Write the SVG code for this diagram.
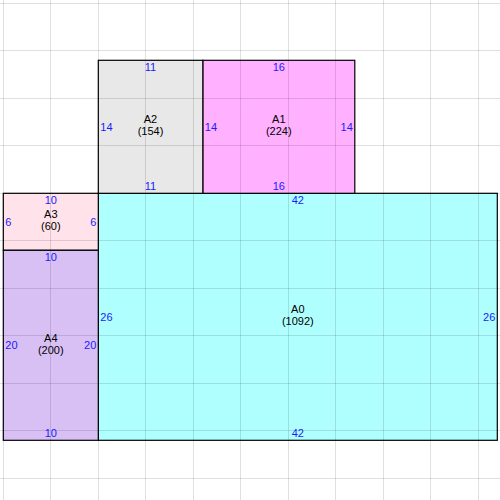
<svg xmlns="http://www.w3.org/2000/svg" width="500" height="500" viewBox="0 0 500 500">
<style>
.r{stroke:#000;stroke-width:1.2}
.g line{stroke:#000;stroke-opacity:0.12;stroke-width:1}
.n{font-family:"Liberation Sans",Arial,sans-serif;font-size:11px;fill:#000;text-anchor:middle}
.d{font-family:"Liberation Sans",Arial,sans-serif;font-size:11px;fill:#1a1aff}
.m{text-anchor:middle}
.e{text-anchor:end}
</style>
<rect width="500" height="500" fill="#fff"/>
<g id="A0"><rect class="r" x="98.3" y="193.3" width="399" height="247" fill="#b0ffff"/></g>
<g id="A1"><rect class="r" x="202.8" y="60.3" width="152" height="133" fill="#ffb0ff"/></g>
<g id="A2"><rect class="r" x="98.3" y="60.3" width="104.5" height="133" fill="#e8e8e8"/></g>
<g id="A3"><rect class="r" x="3.3" y="193.3" width="95" height="57" fill="#ffe2ea"/></g>
<g id="A4"><rect class="r" x="3.3" y="250.3" width="95" height="190" fill="#d9c0f4"/></g>
<g class="g">
<line x1="3.5" y1="0" x2="3.5" y2="500"/><line x1="50.5" y1="0" x2="50.5" y2="500"/><line x1="98.5" y1="0" x2="98.5" y2="500"/><line x1="145.5" y1="0" x2="145.5" y2="500"/><line x1="193.5" y1="0" x2="193.5" y2="500"/><line x1="240.5" y1="0" x2="240.5" y2="500"/><line x1="288.5" y1="0" x2="288.5" y2="500"/><line x1="335.5" y1="0" x2="335.5" y2="500"/><line x1="383.5" y1="0" x2="383.5" y2="500"/><line x1="430.5" y1="0" x2="430.5" y2="500"/><line x1="478.5" y1="0" x2="478.5" y2="500"/>
<line y1="3.5" x1="0" y2="3.5" x2="500"/><line y1="50.5" x1="0" y2="50.5" x2="500"/><line y1="98.5" x1="0" y2="98.5" x2="500"/><line y1="145.5" x1="0" y2="145.5" x2="500"/><line y1="193.5" x1="0" y2="193.5" x2="500"/><line y1="240.5" x1="0" y2="240.5" x2="500"/><line y1="288.5" x1="0" y2="288.5" x2="500"/><line y1="335.5" x1="0" y2="335.5" x2="500"/><line y1="383.5" x1="0" y2="383.5" x2="500"/><line y1="430.5" x1="0" y2="430.5" x2="500"/><line y1="478.5" x1="0" y2="478.5" x2="500"/>
</g>
<g id="connectors"></g>
<g id="labels">
<text class="n" x="297.8" y="312.5">A0</text><text class="n" x="297.8" y="324.5">(1092)</text>
<text class="d m" x="297.8" y="204">42</text><text class="d m" x="297.8" y="437.3">42</text>
<text class="d" x="100.3" y="321">26</text><text class="d e" x="495.3" y="321">26</text>
<text class="n" x="278.8" y="123">A1</text><text class="n" x="278.8" y="135">(224)</text>
<text class="d m" x="278.8" y="71">16</text><text class="d m" x="278.8" y="190.3">16</text>
<text class="d" x="204.8" y="131">14</text><text class="d e" x="352.8" y="131">14</text>
<text class="n" x="150.5" y="123">A2</text><text class="n" x="150.5" y="135">(154)</text>
<text class="d m" x="150.5" y="71">11</text><text class="d m" x="150.5" y="190.3">11</text>
<text class="d" x="100.3" y="131">14</text>
<text class="n" x="50.8" y="218">A3</text><text class="n" x="50.8" y="230">(60)</text>
<text class="d m" x="50.8" y="204">10</text>
<text class="d" x="5.3" y="225.8">6</text><text class="d e" x="96.3" y="225.8">6</text>
<text class="n" x="50.8" y="342">A4</text><text class="n" x="50.8" y="354">(200)</text>
<text class="d m" x="50.8" y="261">10</text><text class="d m" x="50.8" y="437.3">10</text>
<text class="d" x="5.3" y="349.3">20</text><text class="d e" x="96.3" y="349.3">20</text>
</g>
</svg>
